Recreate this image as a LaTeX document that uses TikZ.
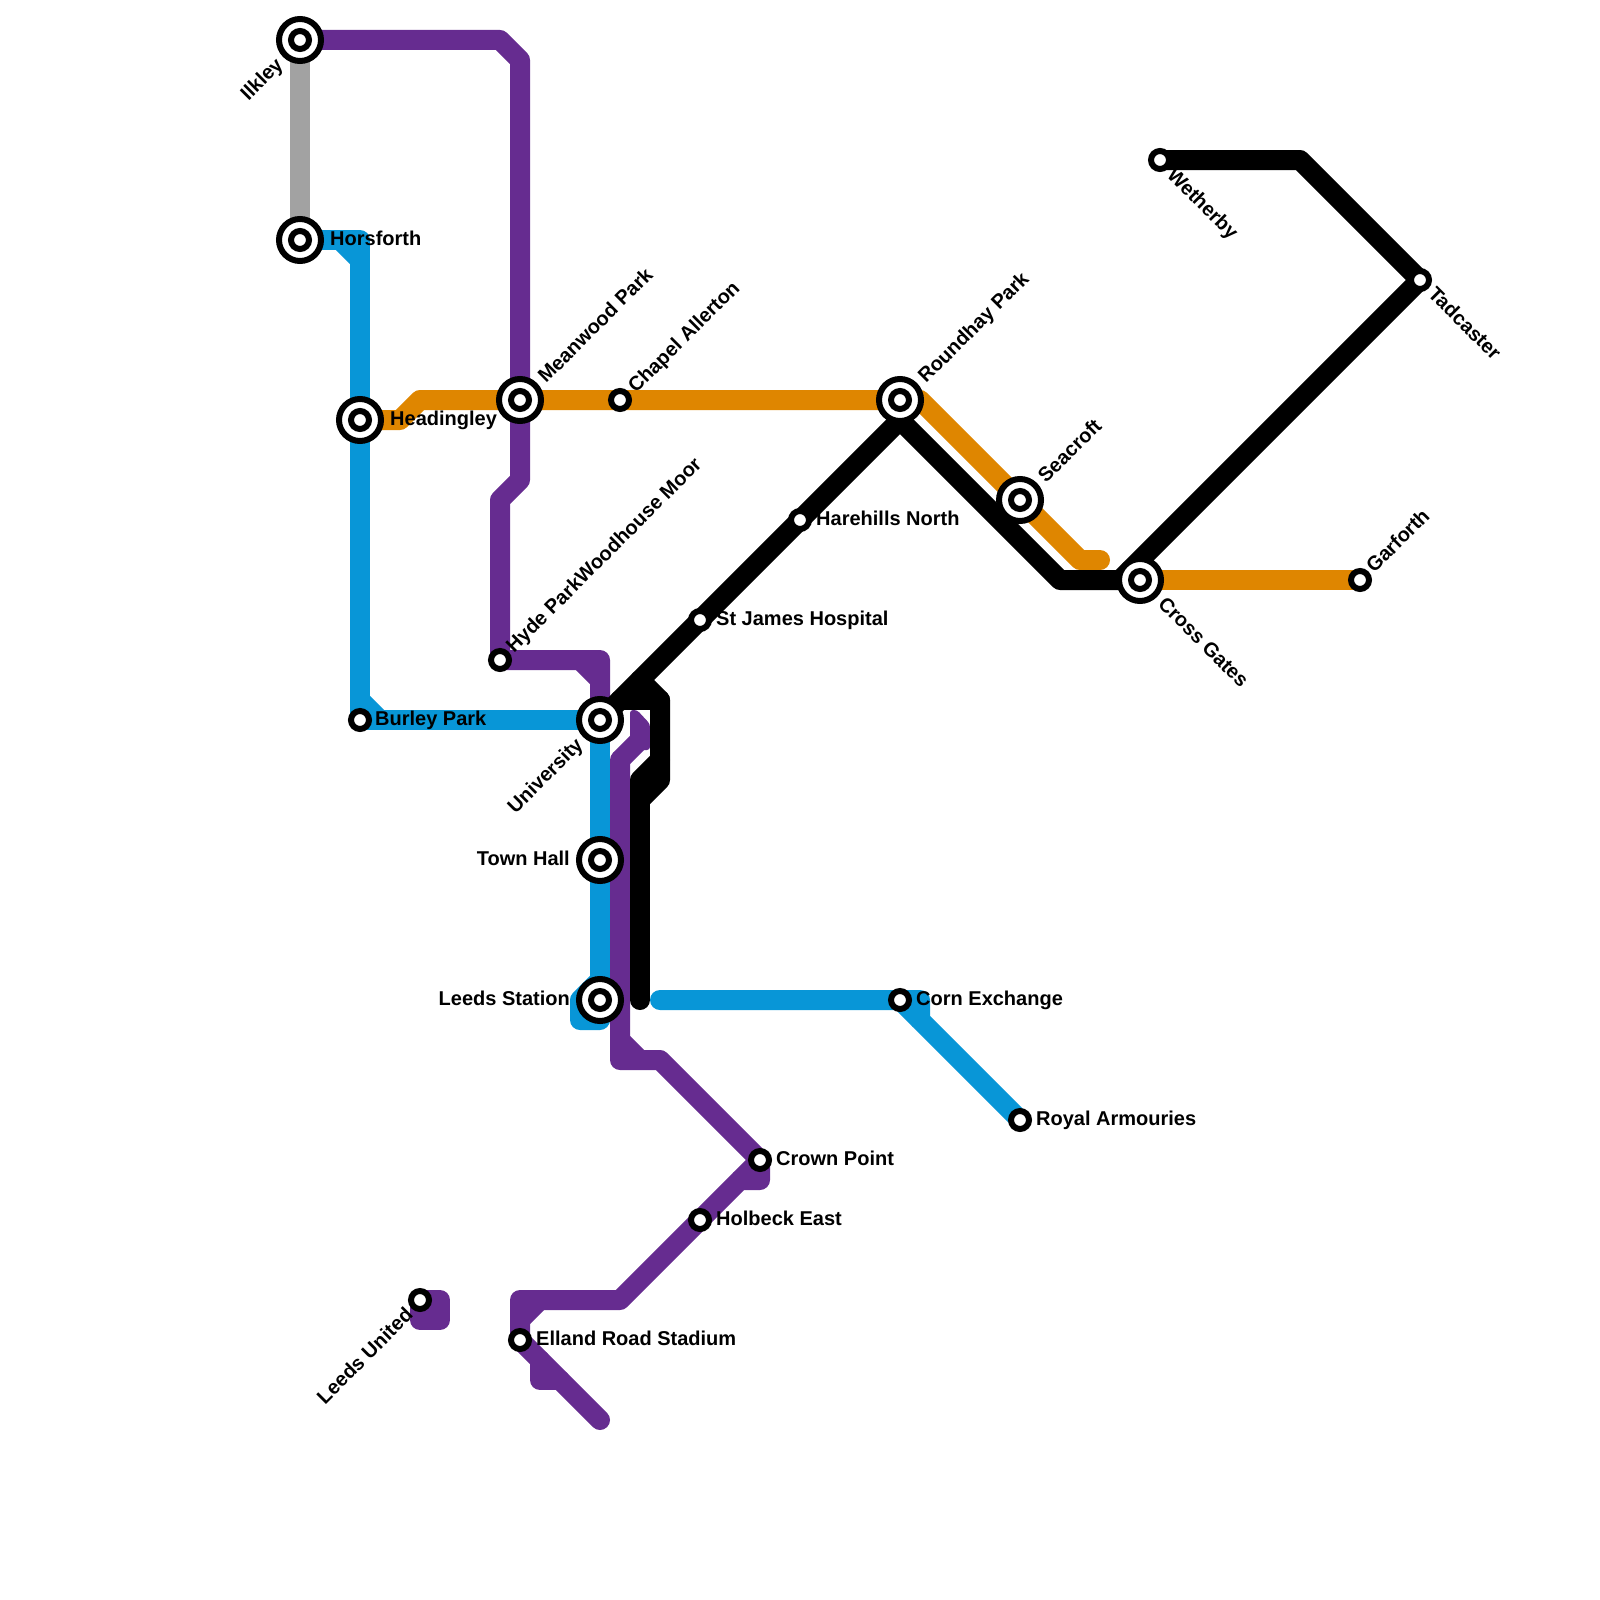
\documentclass[tikz,border=0pt]{standalone}
\usepackage{fontspec}
\setmainfont{Liberation Sans}
\definecolor{lineblue}{HTML}{0896D7}
\definecolor{linepurple}{HTML}{662C90}
\definecolor{lineorange}{HTML}{DF8600}
\definecolor{linegrey}{HTML}{A2A2A2}
\tikzset{route/.style={line width=20pt, line cap=round, line join=round}}
\tikzset{stop/.style={circle, draw=black, fill=white, line width=6pt, minimum size=18pt, inner sep=0pt, outer sep=0pt}}
\tikzset{hub/.style={circle, draw=black, fill=white, line width=6pt, minimum size=42pt, inner sep=0pt, outer sep=0pt}}
\tikzset{lbl/.style={font=\bfseries\fontsize{20}{22}\selectfont, inner sep=0pt, text=black, text height=14.4pt, text depth=0pt}}

\begin{document}
\begin{tikzpicture}[x=1pt, y=-1pt]
        \useasboundingbox (0,0) rectangle (1600,1600);

        % Stations
        \foreach \n/\x/\y in {ilkley/300/40, horsforth/300/240, headingley/360/420,
            meanwood/520/400, university/600/720, townhall/600/860, leeds/600/1000,
            roundhay/900/400, seacroft/1020/500, crossgates/1140/580}
          \coordinate (\n) at (\x,\y);
        \foreach \n/\x/\y in {chapel/620/400, hydepark/500/660, burley/360/720,
            harehills/800/520, stjames/700/620, wetherby/1160/160, tadcaster/1420/280,
            garforth/1360/580, cornexchange/900/1000, armouries/1020/1120,
            crownpoint/760/1160, holbeck/700/1220, elland/520/1340, leedsunited/420/1300}
          \coordinate (\n) at (\x,\y);

        % Grey
        \draw [route, linegrey, line cap=butt] (ilkley) -- (horsforth);

        % Orange
        \draw [route, lineorange] (headingley) -- (400,420) -- (420,400) -- (roundhay)
          -- (920,400) -- (1080,560) -- (1100,560);
        \draw [route, lineorange] (crossgates) -- (garforth);

        % Blue
        \draw [route, lineblue] (horsforth) -- (360,240) -- (burley) -- (university) -- (leeds);
        \draw [route, lineblue, line cap=butt] (340,240) -- (360,260);
        \draw [route, lineblue, line cap=butt] (360,700) -- (380,720);
        \draw [route, lineblue] (600,980) -- (580,1000) -- (580,1020) -- (600,1020) -- (leeds);
        \draw [route, lineblue] (660,1000) -- (920,1000) -- (920,1020) -- (armouries);
        \draw [route, lineblue, line cap=butt] (900,1000) -- (920,1020);

        % Purple
        \draw [route, linepurple] (ilkley) -- (500,40) -- (520,60) -- (520,480) -- (500,500)
          -- (hydepark) -- (600,660) -- (university);
        \draw [route, linepurple, line cap=butt] (580,660) -- (600,680);
        \draw [route, linepurple] (620,760) -- (620,1060) -- (660,1060) -- (crownpoint)
          -- (760,1180) -- (740,1180) -- (620,1300) -- (520,1300) -- (elland) -- (600,1420);
        \draw [route, linepurple, line cap=butt] (760,1160) -- (740,1180);
        \draw [route, linepurple, line cap=butt] (620,760) -- (640,740);
        \draw [route, linepurple, line cap=butt] (620,1040) -- (640,1060);
        \draw [route, linepurple, line cap=butt] (520,1320) -- (540,1300);
        \draw [route, linepurple] (540,1360) -- (540,1380) -- (560,1380);
        \fill [linepurple, rounded corners=3pt] (630,750) -- (630,710) -- (637,710)
          -- (650,724) -- (650,750) -- cycle;
        \draw [route, linepurple] (leedsunited) -- (440,1300) -- (440,1320) -- (420,1320) -- cycle;
        \fill [linepurple] (leedsunited) rectangle (440,1320);

        % Black
        \draw [route] (wetherby) -- (1300,160) -- (tadcaster) -- (1120,580);
        \draw [route] (crossgates) -- (1060,580) -- (900,420) -- (university);
        \draw [route] (640,680) -- (660,700) -- (660,760);
        \draw [route] (620,700) -- (660,700);
        \draw [route, fill=black] (660,760) -- (640,780) -- (640,800) -- (660,780) -- cycle;
        \draw [route] (640,800) -- (640,1000);

        % Station markers
        \foreach \n in {ilkley, horsforth, headingley, meanwood, university, townhall, leeds,
            roundhay, seacroft, crossgates}
          \node [hub] (\n_outer) at (\n) {};
        \foreach \n in {ilkley, horsforth, headingley, meanwood, university, townhall, leeds,
            roundhay, seacroft, crossgates, chapel, hydepark, burley, harehills, stjames,
            wetherby, tadcaster, garforth, cornexchange, armouries, crownpoint, holbeck,
            elland, leedsunited}
          \node [stop] (\n_inner) at (\n) {};

        % Text
        \node at (330,238) [lbl, anchor=west] (horsforth_text) {Horsforth};
        \node at (390,418) [lbl, anchor=west] (headingley_text) {Headingley};
        \node at (375,718) [lbl, anchor=west] (burley_text) {Burley Park};
        \node at (816,518) [lbl, anchor=west] (harehills_text) {Harehills North};
        \node at (716,618) [lbl, anchor=west] (stjames_text) {St James Hospital};
        \node at (916,998) [lbl, anchor=west] (cornexchange_text) {Corn Exchange};
        \node at (1036,1118) [lbl, anchor=west] (armouries_text) {Royal Armouries};
        \node at (776,1158) [lbl, anchor=west] (crownpoint_text) {Crown Point};
        \node at (716,1218) [lbl, anchor=west] (holbeck_text) {Holbeck East};
        \node at (536,1338) [lbl, anchor=west] (elland_text) {Elland Road Stadium};
        \node at (570,858) [lbl, anchor=east] (townhall_text) {Town Hall};
        \node at (570,998) [lbl, anchor=east] (leeds_text) {Leeds Station};

        \node at (541,379) [lbl, anchor=west, rotate=45] (meanwood_text) {Meanwood Park};
        \node at (631,389) [lbl, anchor=west, rotate=45] (chapel_text) {Chapel Allerton};
        \node at (509,649) [lbl, anchor=west, rotate=45] (hydepark_text) {Hyde ParkWoodhouse Moor};
        \node at (921,379) [lbl, anchor=west, rotate=45] (roundhay_text) {Roundhay Park};
        \node at (1041,479) [lbl, anchor=west, rotate=45] (seacroft_text) {Seacroft};
        \node at (1369,569) [lbl, anchor=west, rotate=45] (garforth_text) {Garforth};
        \node at (1171,171) [lbl, anchor=west, rotate=-45] (wetherby_text) {Wetherby};
        \node at (1432,290) [lbl, anchor=west, rotate=-45] (tadcaster_text) {Tadcaster};
        \node at (1162,600) [lbl, anchor=west, rotate=-45] (crossgates_text) {Cross Gates};
        \node at (279,61) [lbl, anchor=east, rotate=45] (ilkley_text) {Ilkley};
        \node at (579,741) [lbl, anchor=east, rotate=45] (university_text) {University};
        \node at (409,1311) [lbl, anchor=east, rotate=45] (leedsunited_text) {Leeds United};
      \end{tikzpicture}
\end{document}
